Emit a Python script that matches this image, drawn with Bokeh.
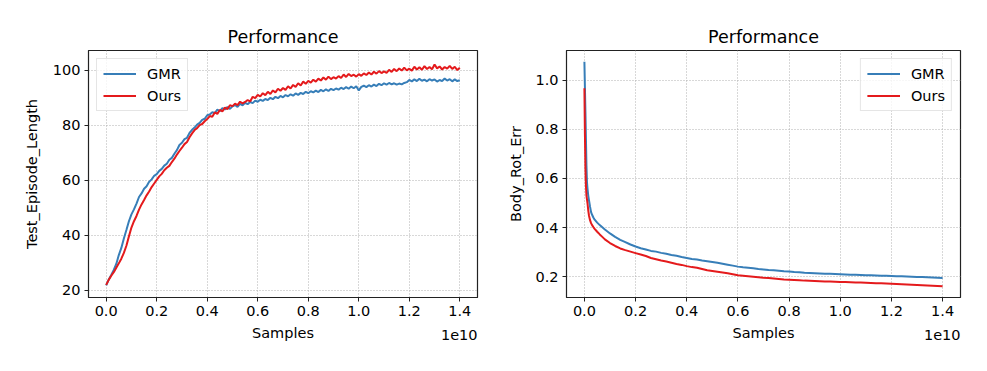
from bokeh.plotting import figure
from bokeh.layouts import row
from bokeh.models import Range1d, FixedTicker, Legend, LegendItem
from bokeh.core.properties import value
from bokeh.embed import file_html
from bokeh.resources import INLINE

# ---------------- data ----------------
# x values in units of 1e10 samples
samples_len = [round(i * 0.01, 2) for i in range(141)]

gmr_len = [21.8, 23.9, 25.6, 27.4, 29.6, 32.8, 35.4, 38.8, 41.9, 45.1,
           47.6, 49.4, 51.5, 53.9, 55.2, 56.9, 57.8, 59.4, 60.3, 61.6,
           62.2, 63.4, 64.1, 65.3, 66.0, 67.4, 68.1, 69.6, 70.9, 72.8,
           73.6, 74.9, 75.4, 77.2, 78.3, 79.1, 80.2, 80.8, 81.9, 82.3,
           83.6, 83.9, 84.7, 84.4, 85.6, 85.1, 86.2, 85.7, 86.6, 85.9,
           86.8, 87.3, 86.6, 87.7, 87.2, 88.1, 87.6, 88.4, 88.0, 88.9,
           88.5, 89.2, 88.8, 89.5, 89.1, 89.9, 89.4, 90.3, 89.8, 90.6,
           90.1, 90.9, 90.5, 91.2, 90.7, 91.5, 91.0, 91.7, 91.3, 92.1,
           91.6, 92.3, 91.9, 92.5, 92.0, 92.8, 92.3, 93.0, 92.4, 93.2,
           92.7, 93.3, 92.9, 93.6, 93.1, 93.8, 93.2, 94.0, 93.4, 94.1,
           92.6, 93.9, 94.3, 93.8, 94.5, 94.0, 94.7, 94.2, 95.0, 94.5,
           95.2, 94.7, 95.3, 94.8, 95.2, 94.7, 95.1, 94.8, 95.3, 95.6,
           96.4, 95.9, 96.6, 96.0, 96.8, 96.1, 96.5, 95.9, 96.7, 96.2,
           96.6, 95.8, 96.4, 96.0, 96.9, 96.2, 96.7, 95.9, 96.6, 96.0,
           96.3]

ours_len = [22.0, 23.8, 25.3, 26.6, 28.2, 29.8, 31.5, 33.6, 36.2, 39.6,
            42.8, 45.1, 47.0, 49.3, 51.2, 52.8, 54.5, 55.9, 57.5, 58.8,
            60.1, 61.4, 62.3, 63.6, 64.5, 65.2, 66.6, 67.8, 69.3, 70.6,
            71.8, 73.1, 73.9, 75.6, 77.0, 78.2, 78.9, 80.0, 80.4, 81.4,
            82.2, 83.3, 83.0, 84.6, 84.1, 85.5, 85.0, 86.4, 85.8, 87.2,
            86.9, 87.8, 87.3, 88.5, 87.9, 88.4, 89.1, 88.6, 90.3, 89.8,
            91.0, 90.4, 91.6, 90.9, 92.1, 91.3, 92.6, 91.9, 93.2, 92.5,
            93.5, 92.8, 94.1, 93.3, 94.6, 93.9, 95.2, 94.4, 95.8, 95.0,
            96.1, 95.4, 96.5, 95.8, 96.9, 96.2, 97.3, 96.5, 97.6, 96.7,
            97.4, 96.9, 97.8, 97.1, 98.4, 97.5, 98.6, 97.8, 98.3, 97.6,
            98.5, 97.9, 98.8, 98.2, 99.1, 98.4, 99.4, 98.7, 99.6, 98.9,
            99.5, 99.0, 100.1, 99.3, 100.4, 99.6, 100.6, 99.8, 100.9, 99.9,
            100.5, 99.8, 101.2, 100.2, 101.0, 100.1, 101.4, 100.4, 101.1, 100.3,
            102.0, 100.6, 101.3, 100.2, 101.1, 100.5, 101.5, 100.4, 101.2, 100.0,
            100.8]

samples_rot = [0.0, 0.002, 0.004, 0.006, 0.008, 0.010, 0.012, 0.015, 0.018, 0.022,
               0.026, 0.030, 0.035, 0.040, 0.050, 0.060, 0.070, 0.080, 0.100, 0.120,
               0.140, 0.160, 0.180, 0.200,
               0.22, 0.24, 0.26, 0.28, 0.30, 0.32, 0.34, 0.36, 0.38, 0.40,
               0.42, 0.44, 0.46, 0.48, 0.50, 0.52, 0.54, 0.56, 0.58, 0.60,
               0.62, 0.64, 0.66, 0.68, 0.70, 0.72, 0.74, 0.76, 0.78, 0.80,
               0.82, 0.84, 0.86, 0.88, 0.90, 0.92, 0.94, 0.96, 0.98, 1.00,
               1.02, 1.04, 1.06, 1.08, 1.10, 1.12, 1.14, 1.16, 1.18, 1.20,
               1.22, 1.24, 1.26, 1.28, 1.30, 1.32, 1.34, 1.36, 1.38, 1.40]

gmr_rot = [1.075, 0.97, 0.87, 0.76, 0.65, 0.585, 0.56, 0.53, 0.51, 0.485,
           0.463, 0.452, 0.441, 0.432, 0.420, 0.410, 0.401, 0.392, 0.376, 0.362,
           0.350, 0.341, 0.331, 0.323,
           0.316, 0.311, 0.305, 0.302, 0.297, 0.293, 0.288, 0.285, 0.280, 0.276,
           0.272, 0.270, 0.266, 0.263, 0.260, 0.257, 0.253, 0.249, 0.245, 0.241,
           0.238, 0.236, 0.234, 0.231, 0.229, 0.227, 0.226, 0.224, 0.222, 0.221,
           0.219, 0.218, 0.216, 0.215, 0.214, 0.213, 0.212, 0.212, 0.211, 0.210,
           0.209, 0.208, 0.208, 0.207, 0.206, 0.206, 0.205, 0.204, 0.204, 0.203,
           0.202, 0.202, 0.201, 0.200, 0.199, 0.199, 0.198, 0.197, 0.196, 0.195]

ours_rot = [0.967, 0.78, 0.64, 0.57, 0.53, 0.515, 0.50, 0.47, 0.448, 0.43,
            0.418, 0.41, 0.402, 0.395, 0.383, 0.372, 0.362, 0.352, 0.337, 0.325,
            0.315, 0.308, 0.302, 0.296,
            0.290, 0.284, 0.276, 0.271, 0.266, 0.262, 0.257, 0.252, 0.248, 0.243,
            0.239, 0.236, 0.231, 0.226, 0.223, 0.220, 0.217, 0.214, 0.210, 0.206,
            0.204, 0.202, 0.200, 0.198, 0.196, 0.195, 0.193, 0.191, 0.189, 0.188,
            0.187, 0.186, 0.184, 0.183, 0.182, 0.181, 0.180, 0.180, 0.179, 0.178,
            0.178, 0.177, 0.176, 0.176, 0.175, 0.174, 0.173, 0.173, 0.172, 0.171,
            0.170, 0.169, 0.168, 0.167, 0.166, 0.165, 0.164, 0.163, 0.162, 0.161]

x_ticks = [0.0, 0.2, 0.4, 0.6, 0.8, 1.0, 1.2, 1.4]
x_tick_labels = ["0.0", "0.2", "0.4", "0.6", "0.8", "1.0", "1.2", "1.4"]
x_offset_text = "1e10"
len_ticks = [20, 40, 60, 80, 100]
len_tick_labels = ["20", "40", "60", "80", "100"]
rot_ticks = [0.2, 0.4, 0.6, 0.8, 1.0]
rot_tick_labels = ["0.2", "0.4", "0.6", "0.8", "1.0"]

series_names = ["GMR", "Ours"]
colors = ["#377eb8", "#e41a1c"]

FONT = "DejaVu Sans"
TICK_FS = "14.5px"
FRAME_H = 247
OFFSET_PX = 37  # "1e10" offset text distance below the frame
X_RANGE = (-0.07, 1.47)


def make_fig(width, border_left, border_right, ylabel, yr, yticks, yticklabels,
             xs, ys_list, legend_loc, ylab_standoff):
    p = figure(width=width, height=363, output_backend="svg", toolbar_location=None,
               x_range=Range1d(*X_RANGE), y_range=Range1d(*yr),
               min_border_left=border_left, min_border_right=border_right,
               min_border_top=50, min_border_bottom=66,
               title="Performance")
    p.background_fill_color = "white"
    p.border_fill_color = "white"
    p.outline_line_color = "#222222"
    p.outline_line_width = 1.2
    p.outline_line_alpha = 1.0

    p.title.align = "center"
    p.title.text_font = FONT
    p.title.text_font_size = "17.5px"
    p.title.text_font_style = "normal"
    p.title.text_color = "black"
    p.title.standoff = 8

    p.xaxis.ticker = FixedTicker(ticks=x_ticks)
    p.xaxis.major_label_overrides = dict(zip(x_ticks, x_tick_labels))
    p.yaxis.ticker = FixedTicker(ticks=yticks)
    p.yaxis.major_label_overrides = dict(zip(yticks, yticklabels))
    p.xaxis.axis_label = "Samples"
    p.yaxis.axis_label = ylabel
    for ax in (p.xaxis, p.yaxis):
        ax.axis_label_text_font = FONT
        ax.axis_label_text_font_size = TICK_FS
        ax.axis_label_text_font_style = "normal"
        ax.axis_label_text_color = "black"
        ax.major_label_text_font = FONT
        ax.major_label_text_font_size = TICK_FS
        ax.major_label_text_color = "black"
        ax.major_tick_out = 4
        ax.major_tick_in = 0
        ax.minor_tick_out = 0
        ax.minor_tick_in = 0
        ax.major_tick_line_color = "#222222"
        ax.axis_line_color = "#222222"
        ax.major_label_standoff = 4
    p.xaxis.axis_label_standoff = 6
    p.yaxis.axis_label_standoff = ylab_standoff

    p.grid.grid_line_color = "#b0b0b0"
    p.grid.grid_line_dash = "1 2"
    p.grid.grid_line_width = 1

    items = []
    for name, ys, c in zip(series_names, ys_list, colors):
        r = p.line(xs, ys, line_color=c, line_width=2)
        items.append(LegendItem(label=name, renderers=[r]))

    leg = Legend(items=items, location=legend_loc)
    leg.label_text_font = FONT
    leg.label_text_font_size = TICK_FS
    leg.label_text_color = "black"
    leg.border_line_color = "#cccccc"
    leg.border_line_width = 1
    leg.background_fill_alpha = 0.8
    leg.glyph_width = 33
    leg.glyph_height = 17
    leg.label_height = 17
    leg.label_standoff = 11
    leg.spacing = 5
    leg.padding = 6
    leg.margin = 8
    p.add_layout(leg, "center")

    # offset text "1e10" placed below the frame at its right end (unclipped overlay level)
    y_off = yr[0] - OFFSET_PX * (yr[1] - yr[0]) / FRAME_H
    p.text(x=[X_RANGE[1]], y=[y_off], text=[x_offset_text], level="overlay",
           text_align="right", text_baseline="middle",
           text_font=value(FONT), text_font_size="14.5px", text_color="black")
    return p


p1 = make_fig(498, 88, 21, "Test_Episode_Length", (17.4, 107.1), len_ticks, len_tick_labels,
              samples_len, [gmr_len, ours_len], "top_left", 10)
p2 = make_fig(481, 68, 19, "Body_Rot_Err", (0.1153, 1.1207), rot_ticks, rot_tick_labels,
              samples_rot, [gmr_rot, ours_rot], "top_right", 8)

layout = row(p1, p2)
open("out.html", "w").write(file_html(layout, INLINE))
